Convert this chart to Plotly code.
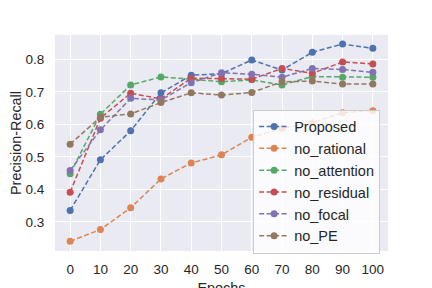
import plotly.graph_objects as go

epochs = [0, 10, 20, 30, 40, 50, 60, 70, 80, 90, 100]
proposed = [0.335, 0.491, 0.580, 0.697, 0.751, 0.756, 0.798, 0.767, 0.822, 0.847, 0.834]
no_rational = [0.240, 0.276, 0.343, 0.432, 0.481, 0.506, 0.560, 0.588, 0.605, 0.636, 0.642]
no_attention = [0.448, 0.631, 0.721, 0.746, 0.739, 0.731, 0.737, 0.721, 0.747, 0.745, 0.745]
no_residual = [0.391, 0.619, 0.696, 0.678, 0.742, 0.741, 0.739, 0.772, 0.757, 0.792, 0.786]
no_focal = [0.458, 0.583, 0.680, 0.675, 0.728, 0.759, 0.754, 0.745, 0.772, 0.769, 0.760]
no_PE = [0.539, 0.622, 0.632, 0.667, 0.697, 0.690, 0.698, 0.731, 0.733, 0.724, 0.724]

names = ["Proposed", "no_rational", "no_attention", "no_residual", "no_focal", "no_PE"]
series = [proposed, no_rational, no_attention, no_residual, no_focal, no_PE]
colors = ["#4C72B0", "#DD8452", "#55A868", "#C44E52", "#8172B3", "#937860"]

font = "Liberation Sans, Arial, sans-serif"
fig = go.Figure()
for n, s, c in zip(names, series, colors):
    fig.add_trace(go.Scatter(
        x=epochs, y=s, name=n, mode="lines+markers",
        line=dict(color=c, width=1.5, dash="5px,2.5px"),
        marker=dict(color=c, size=7, symbol="circle"),
    ))

fig.update_layout(
    width=432, height=288,
    margin=dict(l=47, r=52, t=27, b=45),
    paper_bgcolor="white", plot_bgcolor="#EAEAF2",
    font=dict(family=font, color="#262626", size=13),
    showlegend=True,
    legend=dict(
        x=0.595, y=0.655, xanchor="left", yanchor="top",
        bgcolor="rgba(255,255,255,0.8)", bordercolor="#CCCCCC", borderwidth=1,
        font=dict(size=14.5, family=font, color="#262626"),
        tracegroupgap=0, itemwidth=30,
    ),
    xaxis=dict(
        range=[-5, 105], tickvals=epochs, ticktext=[str(e) for e in epochs],
        showgrid=True, gridcolor="white", gridwidth=1, zeroline=False,
        ticks="outside", ticklen=6, tickcolor="rgba(0,0,0,0)",
        tickfont=dict(size=13.5),
        title=dict(text="Epochs", font=dict(size=14.4)),
        showline=False, automargin=False,
    ),
    yaxis=dict(
        range=[0.21, 0.875], tickvals=[0.3, 0.4, 0.5, 0.6, 0.7, 0.8],
        tickformat=".1f",
        showgrid=True, gridcolor="white", gridwidth=1, zeroline=False,
        ticks="outside", ticklen=7, tickcolor="rgba(0,0,0,0)",
        tickfont=dict(size=13.5),
        title=dict(text="Precision-Recall", font=dict(size=14.4)),
        showline=False, automargin=False,
    ),
)

fig.write_html("out.html")
